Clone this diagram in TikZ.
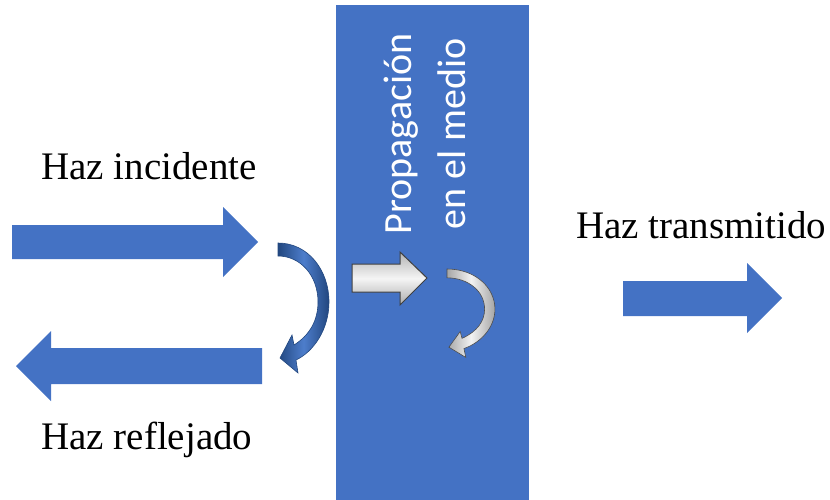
\documentclass[tikz,border=0pt]{standalone}
\usepackage{fontspec}
\setmainfont{Liberation Serif}
\newfontfamily\calibri{Carlito}
\usepackage{tikz}
\usetikzlibrary{positioning}
\definecolor{azul}{HTML}{4472C4}
\definecolor{azuloscuro}{HTML}{22477F}
\definecolor{azulmedio}{HTML}{4D7DCB}
\tikzset{
  bloque/.style={fill=azul},
  rotulo/.style={anchor=base west,inner sep=0pt,font=\fontsize{39}{46}\selectfont},
  flechagris/.style={top color=gray!60,bottom color=gray!65,middle color=gray!8,draw=black!75,line width=1pt},
  curvaazul/.style={left color=azuloscuro,right color=azuloscuro,middle color=azulmedio,draw=azuloscuro,line width=0.6pt},
  curvagris/.style={left color=gray!70,right color=gray!70,middle color=gray!10,draw=gray!60!black,line width=0.6pt},
  curva/.pic={
    \path[pic actions] (0,0) .. controls (30,0) and (51,27) .. (51,59)
      .. controls (51,87) and (35,109) .. (18,117) -- (20,130) -- (2,115)
      -- (14,92) -- (16,102) .. controls (32,92) and (40,77) .. (40,59)
      .. controls (40,32) and (22,13) .. (0,13) -- cycle;
  },
}
\begin{document}
\begin{tikzpicture}[x=1pt,y=-1pt]
\useasboundingbox (0,0) rectangle (830,500);

% medio
\fill[azul] (336,5) rectangle (529,500);
\node[rotate=90,text=white,align=center,inner sep=0pt,
  font=\calibri\fontsize{40}{54}\selectfont] (medio) at (425,134)
  {Propagación\\en el medio};

% haces
\fill[bloque] (12,225) -- (223,225) -- (223,207) -- (258,242) -- (223,277)
  -- (223,259) -- (12,259) -- cycle;
\fill[bloque] (262,348) -- (51,348) -- (51,331) -- (16,366) -- (51,401)
  -- (51,384) -- (262,384) -- cycle;
\fill[bloque] (623,281) -- (747,281) -- (747,263) -- (782,298) -- (747,333)
  -- (747,316) -- (623,316) -- cycle;

% dentro del medio
\path[flechagris] (352,264) -- (400,264) -- (400,252) -- (427,278) -- (400,305)
  -- (400,292) -- (352,292) -- cycle;

\pic[curvaazul] at (278,243) {curva};
\pic[curvagris,xscale=0.94,yscale=0.68] at (447,269) {curva};

% textos
\node[rotulo] (incidente) at (41,179) {Haz incidente};
\node[rotulo] (reflejado) at (41,449) {Haz reflejado};
\node[rotulo] (transmitido) at (576,238) {Haz transmitido};

\end{tikzpicture}
\end{document}
